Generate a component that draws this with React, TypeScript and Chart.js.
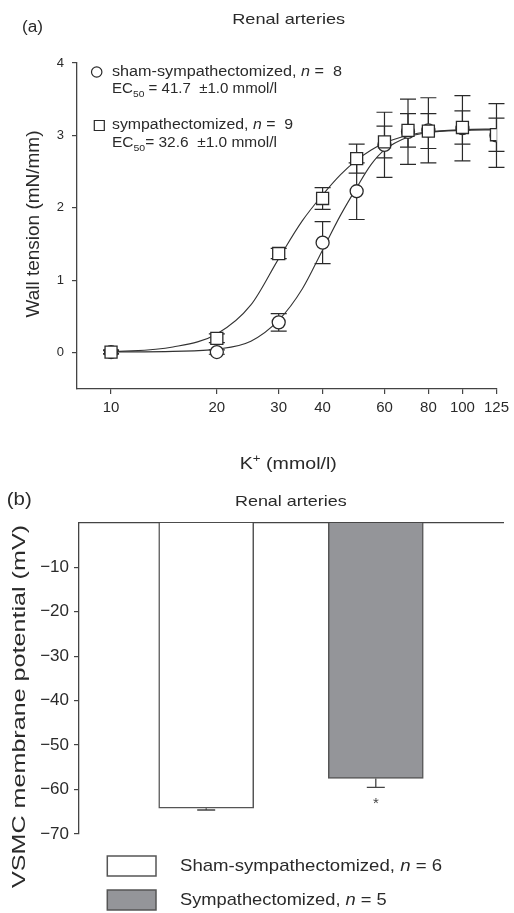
import React, { useEffect, useRef } from 'react';
import { Chart, registerables } from 'chart.js';
Chart.register(...registerables);

const FONT = '"Liberation Sans", Arial, Helvetica, sans-serif';
const INK = '#2a2a2a';

// ---------- Panel (a): wall tension vs K+ ----------
const kConc = [10, 20, 30, 40, 50, 60, 70, 80, 100, 125];
const shamTension = [0.01, 0.01, 0.42, 1.52, 2.23, 2.87, 3.05, 3.07, 3.1, 3.0];
const shamSem = [0.02, 0.03, 0.12, 0.29, 0.39, 0.45, 0.45, 0.45, 0.45, 0.44];
const sympTension = [0.01, 0.2, 1.37, 2.13, 2.68, 2.91, 3.07, 3.06, 3.11, 3.01];
const sympSem = [0.03, 0.06, 0.07, 0.15, 0.2, 0.22, 0.23, 0.24, 0.23, 0.23];
// fitted sigmoid curves
const fitK = [10, 15, 20, 25, 30, 35, 40, 45, 50, 55, 60, 70, 80, 100, 125];
const shamFit = [0.01, 0.02, 0.05, 0.16, 0.45, 0.88, 1.42, 1.9, 2.28, 2.6, 2.8, 2.98, 3.04, 3.07, 3.08];
const sympFit = [0.01, 0.08, 0.26, 0.66, 1.3, 1.82, 2.18, 2.46, 2.66, 2.8, 2.9, 3.0, 3.05, 3.08, 3.09];
const xTicksA = [10, 20, 30, 40, 60, 80, 100, 125];
const yTicksA = [0, 1, 2, 3, 4];
const shamLabel = 'sham-sympathectomized';
const sympLabel = 'sympathectomized';
const shamN = 8;
const sympN = 9;
const shamEC50 = 41.7;
const sympEC50 = 32.6;
const ec50Sem = [1.0, 1.0];

// ---------- Panel (b): membrane potential ----------
const barGroups = ['Sham-sympathectomized', 'Sympathectomized'];
const barN = [6, 5];
const potential = [-64.2, -57.5];
const potentialSem = [0.4, 2.0];
const significant = [false, true];
const yTicksB = [-10, -20, -30, -40, -50, -60, -70];
const barColors = ['#ffffff', '#949599'];

type Run = { t: string; italic?: boolean; sub?: boolean; sup?: boolean };

function rich(
  ctx: CanvasRenderingContext2D,
  runs: Run[],
  x: number,
  y: number,
  size: number,
  width: number | null,
  align: 'left' | 'center',
  rot = 0,
  color = INK
) {
  ctx.save();
  ctx.translate(x, y);
  if (rot) ctx.rotate(rot);
  const fontOf = (r: Run) =>
    `${r.italic ? 'italic ' : ''}${r.sub || r.sup ? size * 0.68 : size}px ${FONT}`;
  let W = 0;
  const ws = runs.map((r) => {
    ctx.font = fontOf(r);
    const w = ctx.measureText(r.t).width;
    W += w;
    return w;
  });
  const sx = width ? width / W : 1;
  ctx.scale(sx, 1);
  let cx = align === 'center' ? -W / 2 : 0;
  ctx.textBaseline = 'middle';
  ctx.textAlign = 'left';
  ctx.fillStyle = color;
  runs.forEach((r, i) => {
    ctx.font = fontOf(r);
    const dy = r.sub ? size * 0.32 : r.sup ? -size * 0.32 : 0;
    ctx.fillText(r.t, cx, dy);
    cx += ws[i];
  });
  ctx.restore();
}

const errorBarsA = {
  id: 'errA',
  beforeDatasetsDraw(chart: any) {
    const { ctx } = chart;
    const x = chart.scales.x;
    const y = chart.scales.y;
    ctx.save();
    ctx.strokeStyle = INK;
    ctx.lineWidth = 1.2;
    const series: [number[], number[]][] = [
      [shamTension, shamSem],
      [sympTension, sympSem],
    ];
    series.forEach(([m, e]) => {
      m.forEach((v, i) => {
        const px = x.getPixelForValue(kConc[i]);
        const t = y.getPixelForValue(v + e[i]);
        const b = y.getPixelForValue(v - e[i]);
        ctx.beginPath();
        ctx.moveTo(px, t);
        ctx.lineTo(px, b);
        ctx.moveTo(px - 8, t);
        ctx.lineTo(px + 8, t);
        ctx.moveTo(px - 8, b);
        ctx.lineTo(px + 8, b);
        ctx.stroke();
      });
    });
    ctx.restore();
  },
};

const textA = {
  id: 'textA',
  afterDraw(chart: any) {
    const { ctx } = chart;
    rich(ctx, [{ t: '(a)' }], 22, 28, 16, 21, 'left');
    rich(ctx, [{ t: 'Renal arteries' }], 288.7, 20, 15, 113, 'center');
    // legend markers
    ctx.save();
    ctx.strokeStyle = INK;
    ctx.lineWidth = 1.2;
    ctx.fillStyle = '#fff';
    ctx.beginPath();
    ctx.arc(96.7, 72, 5.2, 0, Math.PI * 2);
    ctx.fill();
    ctx.stroke();
    ctx.beginPath();
    ctx.rect(94.3, 120.5, 10, 10);
    ctx.fill();
    ctx.stroke();
    ctx.restore();
    rich(ctx, [{ t: shamLabel + ', ' }, { t: 'n', italic: true }, { t: ' =  ' + shamN }], 112, 72.5, 14, 230, 'left');
    rich(
      ctx,
      [{ t: 'EC' }, { t: '50', sub: true }, { t: ' = ' + shamEC50.toFixed(1) + '  \u00b1' + ec50Sem[0].toFixed(1) + ' mmol/l' }],
      112,
      89.5,
      14,
      165,
      'left'
    );
    rich(ctx, [{ t: sympLabel + ', ' }, { t: 'n', italic: true }, { t: ' =  ' + sympN }], 112, 125, 14, 181, 'left');
    rich(
      ctx,
      [{ t: 'EC' }, { t: '50', sub: true }, { t: '= ' + sympEC50.toFixed(1) + '  \u00b1' + ec50Sem[1].toFixed(1) + ' mmol/l' }],
      112,
      143.5,
      14,
      165,
      'left'
    );
    rich(ctx, [{ t: 'K' }, { t: '+', sup: true }, { t: ' (mmol/l)' }], 288.3, 464, 17, 97, 'center');
    rich(ctx, [{ t: 'Wall tension (mN/mm)' }], 34, 224, 18, 187, 'center', -Math.PI / 2);
  },
};

const errorBarsB = {
  id: 'errB',
  afterDatasetsDraw(chart: any) {
    const { ctx } = chart;
    const x = chart.scales.x;
    const y = chart.scales.y;
    ctx.save();
    ctx.strokeStyle = '#444';
    ctx.lineWidth = 1.3;
    potential.forEach((v, i) => {
      const px = x.getPixelForValue(i);
      const b0 = y.getPixelForValue(v);
      const b = y.getPixelForValue(v - potentialSem[i]);
      ctx.beginPath();
      ctx.moveTo(px, b0);
      ctx.lineTo(px, b);
      ctx.moveTo(px - 9, b);
      ctx.lineTo(px + 9, b);
      ctx.stroke();
      if (significant[i]) {
        ctx.fillStyle = '#444';
        ctx.font = `15px ${FONT}`;
        ctx.textAlign = 'center';
        ctx.textBaseline = 'middle';
        ctx.fillText('*', px, b + 17);
      }
    });
    ctx.restore();
  },
};

const textB = {
  id: 'textB',
  afterDraw(chart: any) {
    const { ctx } = chart;
    rich(ctx, [{ t: '(b)' }], 6.7, 19.7, 18, 25, 'left');
    rich(ctx, [{ t: 'Renal arteries' }], 290.8, 22, 15, 111.7, 'center');
    rich(ctx, [{ t: 'VSMC membrane potential (mV)' }], 20, 226.5, 19, 363, 'center', -Math.PI / 2);
    const rows = [386, 420];
    const widths = [262, 206.7];
    barGroups.forEach((g, i) => {
      ctx.save();
      ctx.fillStyle = barColors[i];
      ctx.strokeStyle = '#555';
      ctx.lineWidth = 1.5;
      ctx.beginPath();
      ctx.rect(107.3, rows[i] - 10, 48.7, 20);
      ctx.fill();
      ctx.stroke();
      ctx.restore();
      rich(ctx, [{ t: g + ', ' }, { t: 'n', italic: true }, { t: ' = ' + barN[i] }], 180, rows[i], 17, widths[i], 'left');
    });
  },
};

const axisLine = { display: true, color: '#444', width: 1.3 };
const tickGrid = (len: number) => ({
  display: true,
  drawOnChartArea: false,
  drawTicks: true,
  tickLength: len,
  color: '#444',
  lineWidth: 1.2,
});

export default function App() {
  const refA = useRef<HTMLCanvasElement>(null);
  const refB = useRef<HTMLCanvasElement>(null);

  useEffect(() => {
    const chartA = new Chart(refA.current as HTMLCanvasElement, {
      type: 'scatter',
      data: {
        datasets: [
          {
            label: sympLabel,
            data: kConc.map((k, i) => ({ x: k, y: sympTension[i] })),
            pointStyle: 'rect',
            pointRadius: 8.5,
            backgroundColor: '#fff',
            borderColor: INK,
            borderWidth: 1.3,
            showLine: false,
            order: 0,
          },
          {
            label: shamLabel,
            data: kConc.map((k, i) => ({ x: k, y: shamTension[i] })),
            pointStyle: 'circle',
            pointRadius: 6.5,
            backgroundColor: '#fff',
            borderColor: INK,
            borderWidth: 1.3,
            showLine: false,
            order: 1,
          },
          {
            label: sympLabel + ' fit',
            data: fitK.map((k, i) => ({ x: k, y: sympFit[i] })),
            showLine: true,
            pointRadius: 0,
            borderColor: '#333',
            borderWidth: 1.1,
            cubicInterpolationMode: 'monotone',
            fill: false,
            order: 2,
          },
          {
            label: shamLabel + ' fit',
            data: fitK.map((k, i) => ({ x: k, y: shamFit[i] })),
            showLine: true,
            pointRadius: 0,
            borderColor: '#333',
            borderWidth: 1.1,
            cubicInterpolationMode: 'monotone',
            fill: false,
            order: 3,
          },
        ],
      },
      options: {
        animation: false,
        responsive: false,
        events: [],
        layout: { padding: { left: 0, right: 14, top: 63, bottom: 0 } },
        plugins: { legend: { display: false }, tooltip: { enabled: false }, title: { display: false } },
        scales: {
          x: {
            type: 'logarithmic',
            position: 'bottom',
            min: 8,
            max: 125,
            bounds: 'data',
            afterBuildTicks: (s: any) => {
              s.ticks = xTicksA.map((v) => ({ value: v }));
            },
            afterFit: (s: any) => {
              s.height = 91;
            },
            ticks: {
              callback: (v: any) => String(v),
              font: { size: 15, family: FONT },
              color: INK,
              padding: 5,
              autoSkip: false,
              maxRotation: 0,
            },
            grid: tickGrid(5),
            border: axisLine,
          },
          y: {
            type: 'linear',
            min: -0.5,
            max: 4,
            bounds: 'data',
            afterBuildTicks: (s: any) => {
              s.ticks = yTicksA.map((v) => ({ value: v }));
            },
            afterFit: (s: any) => {
              s.width = 77;
            },
            ticks: { font: { size: 13, family: FONT }, color: INK, padding: 8 },
            grid: tickGrid(5),
            border: axisLine,
          },
        },
      } as any,
      plugins: [errorBarsA, textA],
    } as any);

    const chartB = new Chart(refB.current as HTMLCanvasElement, {
      type: 'bar',
      data: {
        datasets: [
          {
            label: 'VSMC membrane potential',
            data: potential.map((v, i) => ({ x: i, y: v })),
            backgroundColor: barColors,
            borderColor: '#555',
            borderWidth: 1.5,
            barThickness: 95,
          },
        ],
      },
      options: {
        animation: false,
        responsive: false,
        events: [],
        layout: { padding: { left: 0, right: 11, top: 42.7, bottom: 79 } },
        plugins: { legend: { display: false }, tooltip: { enabled: false }, title: { display: false } },
        scales: {
          x: {
            type: 'linear',
            position: 'top',
            min: -0.75,
            max: 1.75,
            offset: false,
            afterFit: (s: any) => {
              s.height = 0;
            },
            ticks: { display: false },
            grid: { display: false, drawTicks: false, offset: false },
            border: axisLine,
          },
          y: {
            type: 'linear',
            min: -70,
            max: 0,
            bounds: 'data',
            afterBuildTicks: (s: any) => {
              s.ticks = yTicksB.map((v) => ({ value: v }));
            },
            afterFit: (s: any) => {
              s.width = 79;
            },
            ticks: {
              callback: (v: any) => '\u2212' + Math.abs(v),
              font: { size: 17, family: FONT },
              color: INK,
              padding: 5,
            },
            grid: tickGrid(5),
            border: axisLine,
          },
        },
      } as any,
      plugins: [errorBarsB, textB],
    } as any);

    return () => {
      chartA.destroy();
      chartB.destroy();
    };
  }, []);

  return (
    <div style={{ position: 'absolute', left: 0, top: 0, width: 514, height: 913, background: '#fff' }}>
      <canvas ref={refA} width={514} height={480} style={{ position: 'absolute', left: 0, top: 0, width: 514, height: 480 }} />
      <canvas ref={refB} width={514} height={433} style={{ position: 'absolute', left: 0, top: 480, width: 514, height: 433 }} />
    </div>
  );
}
